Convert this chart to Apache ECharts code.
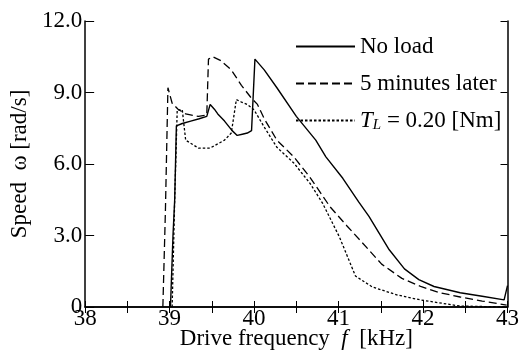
<!DOCTYPE html>
<html>
<head>
<meta charset="utf-8">
<script src="https://cdn.jsdelivr.net/npm/echarts@6/dist/echarts.min.js"></script>
<style>
html,body{margin:0;padding:0;background:#fff;}
#c{width:522px;height:363px;}
</style>
</head>
<body>
<div id="c"></div>
<script>
// ---- data ----
const xTicks = [38, 39, 40, 41, 42, 43];
const yTicks = [0, 3, 6, 9, 12];

const noLoadF = [39.01, 39.04, 39.06, 39.08, 39.15, 39.25, 39.35, 39.44, 39.48, 39.53, 39.57, 39.65, 39.74, 39.80, 39.86, 39.92, 39.97, 40.01, 40.12, 40.27, 40.50, 40.73, 40.85, 41.05, 41.24, 41.36, 41.48, 41.60, 41.78, 41.95, 42.13, 42.44, 42.70, 42.96, 43.00];
const noLoadV = [0, 3.0, 4.5, 7.6, 7.7, 7.8, 7.9, 8.0, 8.5, 8.3, 8.1, 7.8, 7.4, 7.2, 7.25, 7.3, 7.4, 10.4, 9.95, 9.2, 8.0, 7.0, 6.3, 5.4, 4.4, 3.8, 3.1, 2.4, 1.6, 1.15, 0.86, 0.6, 0.45, 0.3, 0.9];

const laterF = [38.92, 38.95, 38.98, 39.03, 39.10, 39.19, 39.34, 39.44, 39.46, 39.51, 39.60, 39.73, 39.85, 39.96, 40.04, 40.12, 40.27, 40.47, 40.66, 40.90, 41.10, 41.28, 41.51, 41.75, 41.98, 42.20, 42.44, 42.70, 42.99];
const laterV = [0, 4.0, 9.2, 8.55, 8.3, 8.1, 8.0, 8.05, 10.4, 10.5, 10.35, 9.95, 9.3, 8.8, 8.5, 7.9, 7.0, 6.3, 5.45, 4.2, 3.4, 2.7, 1.8, 1.2, 0.85, 0.6, 0.42, 0.25, 0.08];

const loadF = [39.03, 39.06, 39.09, 39.15, 39.19, 39.34, 39.48, 39.65, 39.73, 39.79, 39.85, 39.92, 40.00, 40.12, 40.27, 40.47, 40.66, 40.81, 41.01, 41.20, 41.40, 41.70, 41.98, 42.44, 43.00];
const loadV = [0, 4.5, 8.27, 8.27, 7.0, 6.67, 6.67, 7.0, 7.3, 8.7, 8.6, 8.5, 8.27, 7.55, 6.7, 6.04, 5.2, 4.36, 2.94, 1.3, 0.84, 0.5, 0.29, 0.04, 0];

const seriesNames = ['No load', '5 minutes later', 'TL = 0.20 [Nm]'];

function pairs(f, v) { return f.map((x, i) => [x, v[i]]); }

const FONT = 'Liberation Serif';
const FS = 23;
const black = '#000';

const chart = echarts.init(document.getElementById('c'), null, {renderer: 'canvas'});

const axisCommon = {
  axisLine: {show: true, lineStyle: {color: black, width: 1.5}},
  splitLine: {show: false},
};

chart.setOption({
  animation: false,
  backgroundColor: '#fff',
  grid: {left: 78, right: 14, top: 21, bottom: 56, containLabel: false},
  legend: {
    orient: 'vertical',
    left: 295,
    top: 34,
    padding: 0,
    itemWidth: 59,
    itemHeight: 14,
    itemGap: 12,
    itemStyle: {opacity: 0, borderWidth: 0},
    textStyle: {
      fontFamily: FONT, fontSize: FS, color: black, lineHeight: 25,
      rich: {
        i: {fontFamily: FONT, fontSize: FS, fontStyle: 'italic', color: black},
        s: {fontFamily: FONT, fontSize: 15, fontStyle: 'italic', color: black, padding: [9, 0, 0, 0]},
        n: {fontFamily: FONT, fontSize: FS, color: black}
      }
    },
    formatter: function (name) {
      if (name === seriesNames[2]) return '{i|T}{s|L}{n| = 0.20 [Nm]}';
      return name;
    },
    data: seriesNames
  },
  xAxis: [
    Object.assign({}, axisCommon, {
      type: 'value', min: 38, max: 43, interval: 0.5, position: 'bottom',
      axisTick: {show: true, inside: true, length: 6, lineStyle: {color: black, width: 1}},
      axisLabel: {
        show: true, margin: 0, color: black, fontFamily: FONT, fontSize: FS,
        formatter: v => (xTicks.indexOf(v) >= 0 ? String(v) : '')
      },
      name: '{n|Drive frequency  }{i|f}{n|  [kHz]}',
      nameLocation: 'middle',
      nameGap: 20,
      nameMoveOverlap: false,
      nameTextStyle: {
        rich: {
          n: {fontFamily: FONT, fontSize: FS, color: black},
          i: {fontFamily: FONT, fontSize: FS, color: black, fontStyle: 'italic'}
        }
      }
    }),
    Object.assign({}, axisCommon, {
      type: 'value', min: 38, max: 43, interval: 0.5, position: 'top',
      axisTick: {show: true, inside: true, length: 6, lineStyle: {color: black, width: 1}},
      axisLabel: {show: false}
    })
  ],
  yAxis: [
    Object.assign({}, axisCommon, {
      type: 'value', min: 0, max: 12, interval: 3, position: 'left',
      axisTick: {show: true, inside: true, length: 9, lineStyle: {color: black, width: 1}},
      axisLabel: {
        show: true, margin: 3, color: black, fontFamily: FONT, fontSize: FS,
        formatter: v => (v === 0 ? '0' : v.toFixed(1))
      },
      name: 'Speed  ω [rad/s]',
      nameLocation: 'middle',
      nameGap: 48,
      nameTextStyle: {fontFamily: FONT, fontSize: FS, color: black}
    }),
    Object.assign({}, axisCommon, {
      type: 'value', min: 0, max: 12, interval: 3, position: 'right',
      axisTick: {show: true, inside: true, length: 7, lineStyle: {color: black, width: 1}},
      axisLabel: {show: false}
    })
  ],
  series: [
    {
      name: seriesNames[0], type: 'line', xAxisIndex: 0, yAxisIndex: 0,
      symbol: 'none', data: pairs(noLoadF, noLoadV),
      lineStyle: {color: black, width: 1.4, type: 'solid'},
      itemStyle: {color: black}
    },
    {
      name: seriesNames[1], type: 'line', xAxisIndex: 0, yAxisIndex: 0,
      symbol: 'none', data: pairs(laterF, laterV),
      lineStyle: {color: black, width: 1.3, type: [8, 4]},
      itemStyle: {color: black}
    },
    {
      name: seriesNames[2], type: 'line', xAxisIndex: 0, yAxisIndex: 0,
      symbol: 'none', data: pairs(loadF, loadV),
      lineStyle: {color: black, width: 1.3, type: [2.5, 2]},
      itemStyle: {color: black}
    }
  ]
});
</script>
</body>
</html>
